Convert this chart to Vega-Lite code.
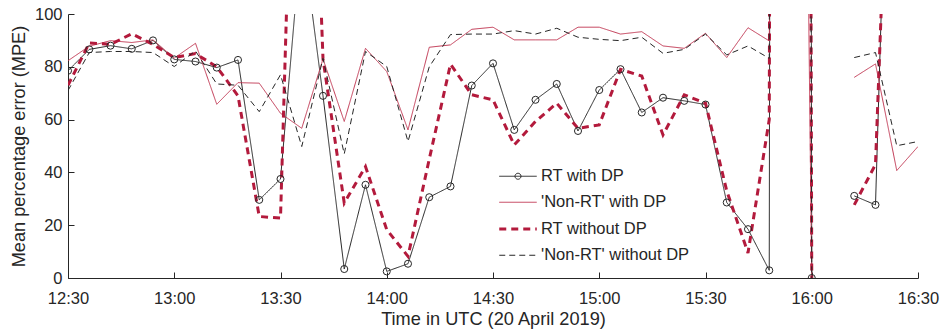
{
  "$schema": "https://vega.github.io/schema/vega-lite/v6.json",
  "width": 850,
  "height": 264,
  "autosize": {"type": "none"},
  "padding": {"left": 68, "top": 14, "right": 25, "bottom": 57},
  "background": "white",
  "config": {
    "view": {"stroke": null},
    "font": "Liberation Sans",
    "axis": {
      "grid": false,
      "domainColor": "#262626",
      "tickColor": "#262626",
      "labelColor": "#262626",
      "titleColor": "#262626",
      "labelFont": "Liberation Sans",
      "titleFont": "Liberation Sans",
      "labelFontSize": 16.5,
      "titleFontSize": 18.2,
      "titleFontWeight": "normal",
      "domainWidth": 1,
      "tickWidth": 1,
      "tickSize": -6
    }
  },
  "datasets": {
    "mpe": [
      {"t": "2019-04-20T12:30:00Z", "s": "RT with DP", "v": 78.5},
      {"t": "2019-04-20T12:36:00Z", "s": "RT with DP", "v": 86.6},
      {"t": "2019-04-20T12:42:00Z", "s": "RT with DP", "v": 88.0},
      {"t": "2019-04-20T12:48:00Z", "s": "RT with DP", "v": 86.8},
      {"t": "2019-04-20T12:54:00Z", "s": "RT with DP", "v": 90.0},
      {"t": "2019-04-20T13:00:00Z", "s": "RT with DP", "v": 82.8},
      {"t": "2019-04-20T13:06:00Z", "s": "RT with DP", "v": 82.0},
      {"t": "2019-04-20T13:12:00Z", "s": "RT with DP", "v": 79.7},
      {"t": "2019-04-20T13:18:00Z", "s": "RT with DP", "v": 82.6},
      {"t": "2019-04-20T13:24:00Z", "s": "RT with DP", "v": 29.6},
      {"t": "2019-04-20T13:30:00Z", "s": "RT with DP", "v": 37.5},
      {"t": "2019-04-20T13:36:00Z", "s": "RT with DP", "v": 131},
      {"t": "2019-04-20T13:42:00Z", "s": "RT with DP", "v": 69.0},
      {"t": "2019-04-20T13:48:00Z", "s": "RT with DP", "v": 3.4},
      {"t": "2019-04-20T13:54:00Z", "s": "RT with DP", "v": 35.3},
      {"t": "2019-04-20T14:00:00Z", "s": "RT with DP", "v": 2.5},
      {"t": "2019-04-20T14:06:00Z", "s": "RT with DP", "v": 5.4},
      {"t": "2019-04-20T14:12:00Z", "s": "RT with DP", "v": 30.6},
      {"t": "2019-04-20T14:18:00Z", "s": "RT with DP", "v": 34.7},
      {"t": "2019-04-20T14:24:00Z", "s": "RT with DP", "v": 72.9},
      {"t": "2019-04-20T14:30:00Z", "s": "RT with DP", "v": 81.3},
      {"t": "2019-04-20T14:36:00Z", "s": "RT with DP", "v": 56.1},
      {"t": "2019-04-20T14:42:00Z", "s": "RT with DP", "v": 67.5},
      {"t": "2019-04-20T14:48:00Z", "s": "RT with DP", "v": 73.5},
      {"t": "2019-04-20T14:54:00Z", "s": "RT with DP", "v": 55.7},
      {"t": "2019-04-20T15:00:00Z", "s": "RT with DP", "v": 71.2},
      {"t": "2019-04-20T15:06:00Z", "s": "RT with DP", "v": 79.1},
      {"t": "2019-04-20T15:12:00Z", "s": "RT with DP", "v": 62.7},
      {"t": "2019-04-20T15:18:00Z", "s": "RT with DP", "v": 68.3},
      {"t": "2019-04-20T15:24:00Z", "s": "RT with DP", "v": 67.1},
      {"t": "2019-04-20T15:30:00Z", "s": "RT with DP", "v": 65.7},
      {"t": "2019-04-20T15:36:00Z", "s": "RT with DP", "v": 28.6},
      {"t": "2019-04-20T15:42:00Z", "s": "RT with DP", "v": 18.5},
      {"t": "2019-04-20T15:48:00Z", "s": "RT with DP", "v": 2.9},
      {"t": "2019-04-20T15:54:00Z", "s": "RT with DP", "v": 5000},
      {"t": "2019-04-20T16:00:00Z", "s": "RT with DP", "v": 0},
      {"t": "2019-04-20T16:06:00Z", "s": "RT with DP", "v": null},
      {"t": "2019-04-20T16:12:00Z", "s": "RT with DP", "v": 31.1},
      {"t": "2019-04-20T16:18:00Z", "s": "RT with DP", "v": 27.7},
      {"t": "2019-04-20T16:24:00Z", "s": "RT with DP", "v": 298},
      {"t": "2019-04-20T16:30:00Z", "s": "RT with DP", "v": null},

      {"t": "2019-04-20T12:30:00Z", "s": "'Non-RT' with DP", "v": 82.3},
      {"t": "2019-04-20T12:36:00Z", "s": "'Non-RT' with DP", "v": 87.8},
      {"t": "2019-04-20T12:42:00Z", "s": "'Non-RT' with DP", "v": 89.9},
      {"t": "2019-04-20T12:48:00Z", "s": "'Non-RT' with DP", "v": 89.2},
      {"t": "2019-04-20T12:54:00Z", "s": "'Non-RT' with DP", "v": 90.2},
      {"t": "2019-04-20T13:00:00Z", "s": "'Non-RT' with DP", "v": 83.3},
      {"t": "2019-04-20T13:06:00Z", "s": "'Non-RT' with DP", "v": 88.9},
      {"t": "2019-04-20T13:12:00Z", "s": "'Non-RT' with DP", "v": 65.8},
      {"t": "2019-04-20T13:18:00Z", "s": "'Non-RT' with DP", "v": 74.0},
      {"t": "2019-04-20T13:24:00Z", "s": "'Non-RT' with DP", "v": 73.8},
      {"t": "2019-04-20T13:30:00Z", "s": "'Non-RT' with DP", "v": 62.4},
      {"t": "2019-04-20T13:36:00Z", "s": "'Non-RT' with DP", "v": 56.7},
      {"t": "2019-04-20T13:42:00Z", "s": "'Non-RT' with DP", "v": 83.0},
      {"t": "2019-04-20T13:48:00Z", "s": "'Non-RT' with DP", "v": 59.3},
      {"t": "2019-04-20T13:54:00Z", "s": "'Non-RT' with DP", "v": 87.0},
      {"t": "2019-04-20T14:00:00Z", "s": "'Non-RT' with DP", "v": 78.2},
      {"t": "2019-04-20T14:06:00Z", "s": "'Non-RT' with DP", "v": 56.1},
      {"t": "2019-04-20T14:12:00Z", "s": "'Non-RT' with DP", "v": 87.4},
      {"t": "2019-04-20T14:18:00Z", "s": "'Non-RT' with DP", "v": 88.3},
      {"t": "2019-04-20T14:24:00Z", "s": "'Non-RT' with DP", "v": 94.2},
      {"t": "2019-04-20T14:30:00Z", "s": "'Non-RT' with DP", "v": 95.0},
      {"t": "2019-04-20T14:36:00Z", "s": "'Non-RT' with DP", "v": 90.2},
      {"t": "2019-04-20T14:42:00Z", "s": "'Non-RT' with DP", "v": 90.2},
      {"t": "2019-04-20T14:48:00Z", "s": "'Non-RT' with DP", "v": 90.2},
      {"t": "2019-04-20T14:54:00Z", "s": "'Non-RT' with DP", "v": 95.0},
      {"t": "2019-04-20T15:00:00Z", "s": "'Non-RT' with DP", "v": 95.0},
      {"t": "2019-04-20T15:06:00Z", "s": "'Non-RT' with DP", "v": 92.4},
      {"t": "2019-04-20T15:12:00Z", "s": "'Non-RT' with DP", "v": 93.3},
      {"t": "2019-04-20T15:18:00Z", "s": "'Non-RT' with DP", "v": 87.9},
      {"t": "2019-04-20T15:24:00Z", "s": "'Non-RT' with DP", "v": 87.0},
      {"t": "2019-04-20T15:30:00Z", "s": "'Non-RT' with DP", "v": 92.7},
      {"t": "2019-04-20T15:36:00Z", "s": "'Non-RT' with DP", "v": 83.5},
      {"t": "2019-04-20T15:42:00Z", "s": "'Non-RT' with DP", "v": 94.8},
      {"t": "2019-04-20T15:48:00Z", "s": "'Non-RT' with DP", "v": 89.8},
      {"t": "2019-04-20T15:54:00Z", "s": "'Non-RT' with DP", "v": 700},
      {"t": "2019-04-20T16:00:00Z", "s": "'Non-RT' with DP", "v": 0},
      {"t": "2019-04-20T16:06:00Z", "s": "'Non-RT' with DP", "v": null},
      {"t": "2019-04-20T16:12:00Z", "s": "'Non-RT' with DP", "v": 76.0},
      {"t": "2019-04-20T16:18:00Z", "s": "'Non-RT' with DP", "v": 81.1},
      {"t": "2019-04-20T16:24:00Z", "s": "'Non-RT' with DP", "v": 40.7},
      {"t": "2019-04-20T16:30:00Z", "s": "'Non-RT' with DP", "v": 49.8},

      {"t": "2019-04-20T12:30:00Z", "s": "RT without DP", "v": 73.0},
      {"t": "2019-04-20T12:36:00Z", "s": "RT without DP", "v": 89.0},
      {"t": "2019-04-20T12:42:00Z", "s": "RT without DP", "v": 88.5},
      {"t": "2019-04-20T12:48:00Z", "s": "RT without DP", "v": 92.5},
      {"t": "2019-04-20T12:54:00Z", "s": "RT without DP", "v": 88.5},
      {"t": "2019-04-20T13:00:00Z", "s": "RT without DP", "v": 83.5},
      {"t": "2019-04-20T13:06:00Z", "s": "RT without DP", "v": 85.0},
      {"t": "2019-04-20T13:12:00Z", "s": "RT without DP", "v": 80.0},
      {"t": "2019-04-20T13:18:00Z", "s": "RT without DP", "v": 69.0},
      {"t": "2019-04-20T13:24:00Z", "s": "RT without DP", "v": 23.3},
      {"t": "2019-04-20T13:30:00Z", "s": "RT without DP", "v": 22.7},
      {"t": "2019-04-20T13:36:00Z", "s": "RT without DP", "v": 300},
      {"t": "2019-04-20T13:42:00Z", "s": "RT without DP", "v": 83.0},
      {"t": "2019-04-20T13:48:00Z", "s": "RT without DP", "v": 28.4},
      {"t": "2019-04-20T13:54:00Z", "s": "RT without DP", "v": 42.2},
      {"t": "2019-04-20T14:00:00Z", "s": "RT without DP", "v": 18.3},
      {"t": "2019-04-20T14:06:00Z", "s": "RT without DP", "v": 8.2},
      {"t": "2019-04-20T14:12:00Z", "s": "RT without DP", "v": 45.0},
      {"t": "2019-04-20T14:18:00Z", "s": "RT without DP", "v": 81.0},
      {"t": "2019-04-20T14:24:00Z", "s": "RT without DP", "v": 69.4},
      {"t": "2019-04-20T14:30:00Z", "s": "RT without DP", "v": 67.5},
      {"t": "2019-04-20T14:36:00Z", "s": "RT without DP", "v": 50.4},
      {"t": "2019-04-20T14:42:00Z", "s": "RT without DP", "v": 59.3},
      {"t": "2019-04-20T14:48:00Z", "s": "RT without DP", "v": 66.2},
      {"t": "2019-04-20T14:54:00Z", "s": "RT without DP", "v": 56.7},
      {"t": "2019-04-20T15:00:00Z", "s": "RT without DP", "v": 58.0},
      {"t": "2019-04-20T15:06:00Z", "s": "RT without DP", "v": 79.0},
      {"t": "2019-04-20T15:12:00Z", "s": "RT without DP", "v": 76.5},
      {"t": "2019-04-20T15:18:00Z", "s": "RT without DP", "v": 54.2},
      {"t": "2019-04-20T15:24:00Z", "s": "RT without DP", "v": 69.4},
      {"t": "2019-04-20T15:30:00Z", "s": "RT without DP", "v": 66.2},
      {"t": "2019-04-20T15:36:00Z", "s": "RT without DP", "v": 33.0},
      {"t": "2019-04-20T15:42:00Z", "s": "RT without DP", "v": 9.5},
      {"t": "2019-04-20T15:48:00Z", "s": "RT without DP", "v": 60.0},
      {"t": "2019-04-20T15:54:00Z", "s": "RT without DP", "v": 3000},
      {"t": "2019-04-20T16:00:00Z", "s": "RT without DP", "v": 0},
      {"t": "2019-04-20T16:06:00Z", "s": "RT without DP", "v": null},
      {"t": "2019-04-20T16:12:00Z", "s": "RT without DP", "v": 27.7},
      {"t": "2019-04-20T16:18:00Z", "s": "RT without DP", "v": 43.0},
      {"t": "2019-04-20T16:24:00Z", "s": "RT without DP", "v": 260},
      {"t": "2019-04-20T16:30:00Z", "s": "RT without DP", "v": null},

      {"t": "2019-04-20T12:30:00Z", "s": "'Non-RT' without DP", "v": 71.0},
      {"t": "2019-04-20T12:36:00Z", "s": "'Non-RT' without DP", "v": 85.4},
      {"t": "2019-04-20T12:42:00Z", "s": "'Non-RT' without DP", "v": 85.8},
      {"t": "2019-04-20T12:48:00Z", "s": "'Non-RT' without DP", "v": 85.8},
      {"t": "2019-04-20T12:54:00Z", "s": "'Non-RT' without DP", "v": 85.4},
      {"t": "2019-04-20T13:00:00Z", "s": "'Non-RT' without DP", "v": 80.1},
      {"t": "2019-04-20T13:06:00Z", "s": "'Non-RT' without DP", "v": 86.0},
      {"t": "2019-04-20T13:12:00Z", "s": "'Non-RT' without DP", "v": 73.5},
      {"t": "2019-04-20T13:18:00Z", "s": "'Non-RT' without DP", "v": 73.0},
      {"t": "2019-04-20T13:24:00Z", "s": "'Non-RT' without DP", "v": 63.0},
      {"t": "2019-04-20T13:30:00Z", "s": "'Non-RT' without DP", "v": 77.0},
      {"t": "2019-04-20T13:36:00Z", "s": "'Non-RT' without DP", "v": 49.8},
      {"t": "2019-04-20T13:42:00Z", "s": "'Non-RT' without DP", "v": 83.2},
      {"t": "2019-04-20T13:48:00Z", "s": "'Non-RT' without DP", "v": 47.0},
      {"t": "2019-04-20T13:54:00Z", "s": "'Non-RT' without DP", "v": 85.8},
      {"t": "2019-04-20T14:00:00Z", "s": "'Non-RT' without DP", "v": 80.1},
      {"t": "2019-04-20T14:06:00Z", "s": "'Non-RT' without DP", "v": 51.7},
      {"t": "2019-04-20T14:12:00Z", "s": "'Non-RT' without DP", "v": 80.0},
      {"t": "2019-04-20T14:18:00Z", "s": "'Non-RT' without DP", "v": 92.2},
      {"t": "2019-04-20T14:24:00Z", "s": "'Non-RT' without DP", "v": 92.4},
      {"t": "2019-04-20T14:30:00Z", "s": "'Non-RT' without DP", "v": 92.4},
      {"t": "2019-04-20T14:36:00Z", "s": "'Non-RT' without DP", "v": 93.7},
      {"t": "2019-04-20T14:42:00Z", "s": "'Non-RT' without DP", "v": 92.4},
      {"t": "2019-04-20T14:48:00Z", "s": "'Non-RT' without DP", "v": 94.6},
      {"t": "2019-04-20T14:54:00Z", "s": "'Non-RT' without DP", "v": 91.2},
      {"t": "2019-04-20T15:00:00Z", "s": "'Non-RT' without DP", "v": 90.4},
      {"t": "2019-04-20T15:06:00Z", "s": "'Non-RT' without DP", "v": 89.9},
      {"t": "2019-04-20T15:12:00Z", "s": "'Non-RT' without DP", "v": 91.2},
      {"t": "2019-04-20T15:18:00Z", "s": "'Non-RT' without DP", "v": 85.1},
      {"t": "2019-04-20T15:24:00Z", "s": "'Non-RT' without DP", "v": 86.6},
      {"t": "2019-04-20T15:30:00Z", "s": "'Non-RT' without DP", "v": 92.4},
      {"t": "2019-04-20T15:36:00Z", "s": "'Non-RT' without DP", "v": 84.5},
      {"t": "2019-04-20T15:42:00Z", "s": "'Non-RT' without DP", "v": 87.9},
      {"t": "2019-04-20T15:48:00Z", "s": "'Non-RT' without DP", "v": 83.2},
      {"t": "2019-04-20T15:54:00Z", "s": "'Non-RT' without DP", "v": 3000},
      {"t": "2019-04-20T16:00:00Z", "s": "'Non-RT' without DP", "v": 0},
      {"t": "2019-04-20T16:06:00Z", "s": "'Non-RT' without DP", "v": null},
      {"t": "2019-04-20T16:12:00Z", "s": "'Non-RT' without DP", "v": 83.5},
      {"t": "2019-04-20T16:18:00Z", "s": "'Non-RT' without DP", "v": 85.4},
      {"t": "2019-04-20T16:24:00Z", "s": "'Non-RT' without DP", "v": 50.1},
      {"t": "2019-04-20T16:30:00Z", "s": "'Non-RT' without DP", "v": 51.7}
    ]
  },
  "data": {"name": "mpe"},
  "encoding": {
    "x": {
      "field": "t",
      "type": "temporal",
      "scale": {
        "type": "utc",
        "nice": false,
        "domain": [
          {"year": 2019, "month": 4, "date": 20, "hours": 12, "minutes": 30, "utc": true},
          {"year": 2019, "month": 4, "date": 20, "hours": 16, "minutes": 30, "utc": true}
        ]
      },
      "axis": {
        "title": "Time in UTC (20 April 2019)",
        "labelExpr": "utcFormat(datum.value, '%H:%M')",
        "values": [
          {"year": 2019, "month": 4, "date": 20, "hours": 12, "minutes": 30, "utc": true},
          {"year": 2019, "month": 4, "date": 20, "hours": 13, "minutes": 0, "utc": true},
          {"year": 2019, "month": 4, "date": 20, "hours": 13, "minutes": 30, "utc": true},
          {"year": 2019, "month": 4, "date": 20, "hours": 14, "minutes": 0, "utc": true},
          {"year": 2019, "month": 4, "date": 20, "hours": 14, "minutes": 30, "utc": true},
          {"year": 2019, "month": 4, "date": 20, "hours": 15, "minutes": 0, "utc": true},
          {"year": 2019, "month": 4, "date": 20, "hours": 15, "minutes": 30, "utc": true},
          {"year": 2019, "month": 4, "date": 20, "hours": 16, "minutes": 0, "utc": true},
          {"year": 2019, "month": 4, "date": 20, "hours": 16, "minutes": 30, "utc": true}
        ],
        "labelPadding": 18,
        "titlePadding": 4,
        "labelFlush": false
      }
    },
    "y": {
      "field": "v",
      "type": "quantitative",
      "scale": {"domain": [0, 100], "nice": false, "zero": false},
      "axis": {
        "title": "Mean percentage error (MPE)",
        "values": [0, 20, 40, 60, 80, 100],
        "labelPadding": 12,
        "titlePadding": 6
      }
    }
  },
  "layer": [
    {
      "mark": {"type": "line", "clip": true, "invalid": "break-paths-filter-domains"},
      "encoding": {
        "color": {
          "field": "s",
          "type": "nominal",
          "sort": null,
          "scale": {
            "domain": ["RT with DP", "'Non-RT' with DP", "RT without DP", "'Non-RT' without DP"],
            "range": ["#262626", "#c23a55", "#b31a3c", "#262626"]
          },
          "legend": {
            "orient": "none", "legendX": 441, "legendY": 154, "title": null, "padding": 0,
            "symbolType": "M-2.5,0L2.5,0", "symbolSize": 225, "labelFontSize": 16.5,
            "labelOffset": 14, "rowPadding": 9, "labelColor": "#262626", "labelFont": "Liberation Sans",
            "encode": {"symbols": {"update": {"shape": {"signal": "datum.value === 'RT with DP' ? 'M-2.5,0L2.5,0M0.4,0A0.4,0.4,0,1,1,-0.4,0A0.4,0.4,0,1,1,0.4,0' : 'M-2.5,0L2.5,0'"}, "fill": {"value": "transparent"}}}}
          }
        },
        "strokeDash": {
          "field": "s",
          "type": "nominal",
          "sort": null,
          "scale": {
            "domain": ["RT with DP", "'Non-RT' with DP", "RT without DP", "'Non-RT' without DP"],
            "range": [[1, 0], [1, 0], [7, 5], [6, 4]]
          },
          "legend": {
            "orient": "none", "legendX": 441, "legendY": 154, "title": null, "padding": 0,
            "symbolType": "M-2.5,0L2.5,0", "symbolSize": 225, "labelFontSize": 16.5,
            "labelOffset": 14, "rowPadding": 9, "labelColor": "#262626", "labelFont": "Liberation Sans",
            "encode": {"symbols": {"update": {"shape": {"signal": "datum.value === 'RT with DP' ? 'M-2.5,0L2.5,0M0.4,0A0.4,0.4,0,1,1,-0.4,0A0.4,0.4,0,1,1,0.4,0' : 'M-2.5,0L2.5,0'"}, "fill": {"value": "transparent"}}}}
          }
        },
        "strokeWidth": {
          "field": "s",
          "type": "nominal",
          "sort": null,
          "scale": {
            "type": "ordinal",
            "domain": ["RT with DP", "'Non-RT' with DP", "RT without DP", "'Non-RT' without DP"],
            "range": [1, 1, 3, 1]
          },
          "legend": {
            "orient": "none", "legendX": 441, "legendY": 154, "title": null, "padding": 0,
            "symbolType": "M-2.5,0L2.5,0", "symbolSize": 225, "labelFontSize": 16.5,
            "labelOffset": 14, "rowPadding": 9, "labelColor": "#262626", "labelFont": "Liberation Sans",
            "encode": {"symbols": {"update": {"shape": {"signal": "datum.value === 'RT with DP' ? 'M-2.5,0L2.5,0M0.4,0A0.4,0.4,0,1,1,-0.4,0A0.4,0.4,0,1,1,0.4,0' : 'M-2.5,0L2.5,0'"}, "fill": {"value": "transparent"}}}}
          }
        }
      }
    },
    {
      "transform": [{"filter": "datum.s === 'RT with DP' && isValid(datum.v)"}],
      "mark": {"type": "point", "shape": "circle", "filled": false, "clip": true, "size": 50, "stroke": "#262626", "strokeWidth": 1, "opacity": 1}
    }
  ]
}
